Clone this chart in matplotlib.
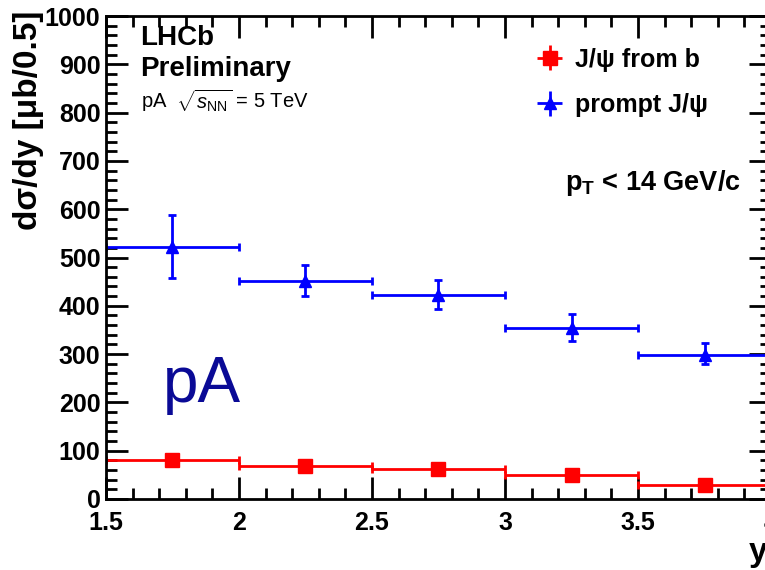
import matplotlib
matplotlib.use("Agg")
import matplotlib.pyplot as plt
from matplotlib.lines import Line2D
from matplotlib.ticker import MultipleLocator

plt.rcParams['font.family'] = ['Liberation Sans', 'DejaVu Sans']
plt.rcParams['mathtext.fontset'] = 'custom'
plt.rcParams['mathtext.rm'] = 'Liberation Sans'
plt.rcParams['mathtext.bf'] = 'Liberation Sans:bold'
plt.rcParams['mathtext.it'] = 'Liberation Sans:italic'

# rapidity bins (centres and half widths)
y_centres = [1.75, 2.25, 2.75, 3.25, 3.75]
y_halfwidth = [0.25, 0.25, 0.25, 0.25, 0.25]

# prompt J/psi
prompt = [521, 451, 423, 355, 299]
prompt_err_lo = [63, 30, 29, 27, 19]
prompt_err_hi = [66, 34, 30, 27, 25]

# J/psi from b
fromb = [81, 69, 62, 49, 30]
fromb_err = [5, 4, 4, 3, 3]

xticks = [1.5, 2, 2.5, 3, 3.5, 4]
xtick_labels = ["1.5", "2", "2.5", "3", "3.5", "4"]
yticks = [0, 100, 200, 300, 400, 500, 600, 700, 800, 900, 1000]

fig = plt.figure(figsize=(7.65, 5.7), dpi=100)
ax = fig.add_axes([106 / 765, 71 / 570, 665 / 765, 483 / 570])

ax.errorbar(y_centres, fromb, xerr=y_halfwidth, yerr=fromb_err, fmt='s',
            color='#ff0000', ms=10, elinewidth=2, capsize=3, capthick=2,
            label="J/ψ from b")
ax.errorbar(y_centres, prompt, xerr=y_halfwidth, yerr=[prompt_err_lo, prompt_err_hi],
            fmt='^', color='#0000ff', ms=9, elinewidth=2, capsize=3, capthick=2,
            label="prompt J/ψ")

ax.set_xlim(1.5, 4)
ax.set_ylim(0, 1000)
ax.set_xticks(xticks)
ax.set_xticklabels(xtick_labels)
ax.set_yticks(yticks)
ax.xaxis.set_minor_locator(MultipleLocator(0.1))
ax.yaxis.set_minor_locator(MultipleLocator(20))
ax.tick_params(which='both', direction='in', top=True, right=True, width=2)
ax.tick_params(which='major', length=16, labelsize=18)
ax.tick_params(axis='x', which='major', pad=9)
ax.tick_params(axis='y', which='major', pad=4)
ax.tick_params(which='minor', length=8)
for lab in ax.get_xticklabels() + ax.get_yticklabels():
    lab.set_fontweight('bold')
for sp in ax.spines.values():
    sp.set_linewidth(2)

fig.text(29 / 765, 1 - 11 / 570, "dσ/dy [μb/0.5]", fontsize=24, fontweight='bold',
         rotation=90, ha='center', va='top')
fig.text(749 / 765, 1 - 552 / 570, "y", fontsize=24, fontweight='bold', ha='left', va='center')

ax.text(0.052, 0.955, "LHCb", transform=ax.transAxes, fontsize=20, fontweight='bold', va='center')
ax.text(0.052, 0.89, "Preliminary", transform=ax.transAxes, fontsize=20, fontweight='bold', va='center')
ax.text(0.052, 0.824, r"pA  $\sqrt{s_{\rm NN}}$ = 5 TeV", transform=ax.transAxes, fontsize=14.5, va='center')
ax.text(0.69, 0.655, r"$\mathbf{p}_{\mathbf{T}}$ < 14 GeV/c", transform=ax.transAxes,
        fontsize=19.5, fontweight='bold', va='center')
ax.text(0.085, 0.235, "pA", transform=ax.transAxes, fontsize=46, color='#0a0a96', va='center')

leg = ax.legend(loc='upper left', bbox_to_anchor=(0.625, 0.955), frameon=False,
                prop={'weight': 'bold', 'size': 18}, handlelength=1.45,
                handletextpad=0.3, labelspacing=0.85, borderaxespad=0)
# legend entries show plain crosses, without the end caps
for ln in leg.findobj(Line2D):
    if ln.get_marker() in ('|', '_'):
        ln.set_visible(False)

fig.savefig("out.png", dpi=100)
